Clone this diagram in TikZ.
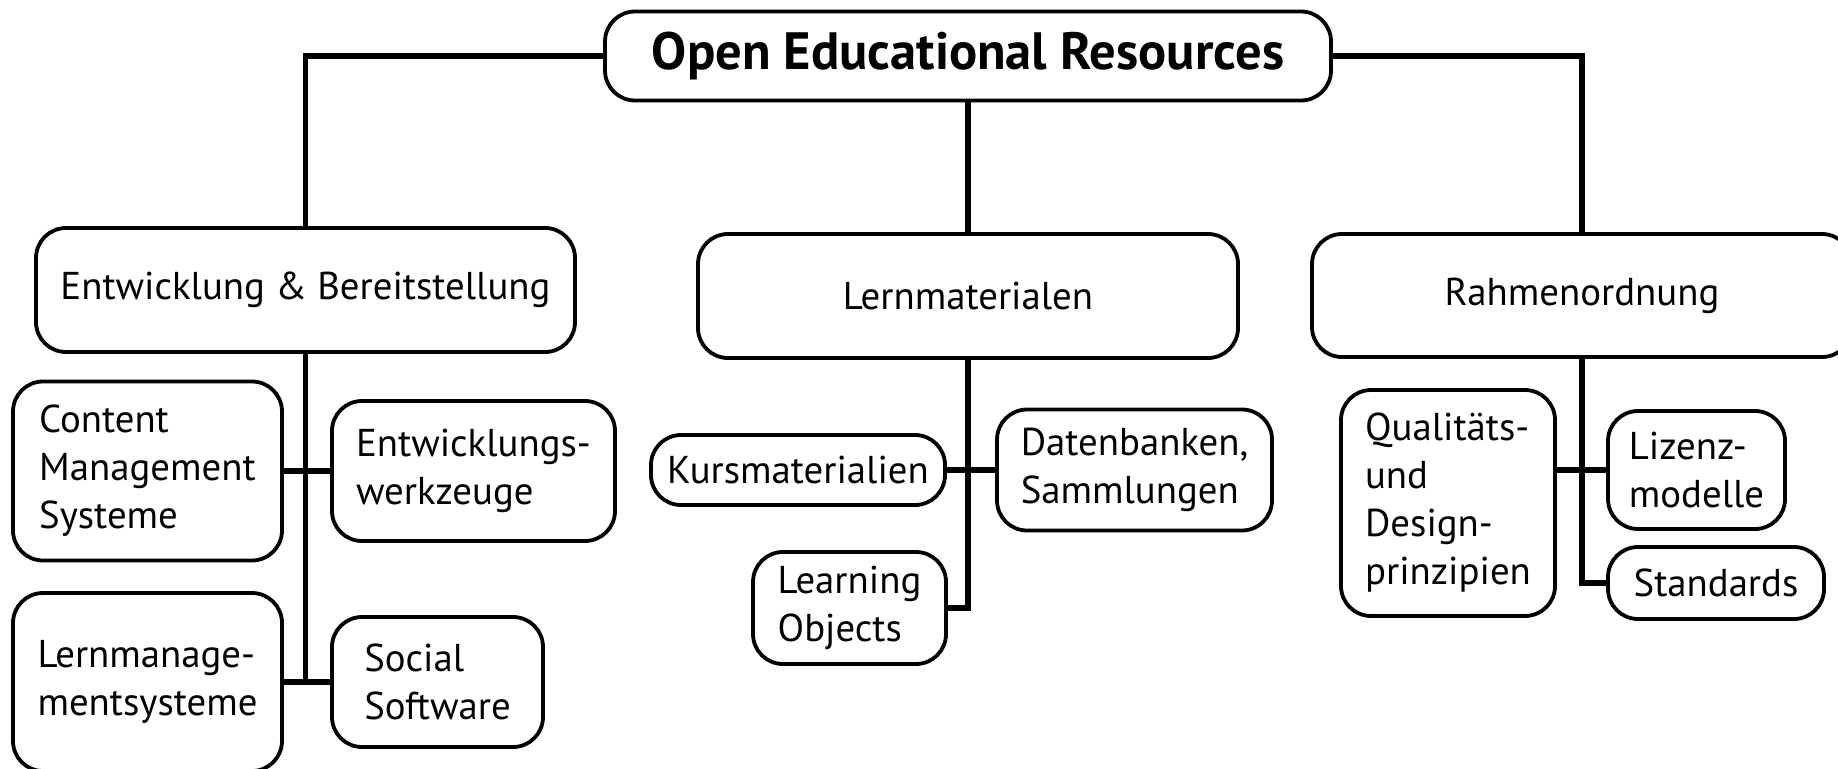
\documentclass[tikz,border=0pt]{standalone}
\usepackage{fontspec}
\setmainfont{PT Sans}
\begin{document}
\begin{tikzpicture}[x=1pt,y=-1pt,
  box/.style={draw=black, line width=3.8pt, fill=white, rounded corners=30pt,
    inner sep=0pt, align=left, font=\fontsize{38.8}{48}\selectfont},
  conn/.style={draw=black, line width=5.5pt, line join=miter}]
\fill[white] (0,0) rectangle (1838,768);
\useasboundingbox (0,0) rectangle (1838,768);

\node[box, minimum width=726pt, minimum height=89pt,
  font=\bfseries\fontsize{52.5}{60}\selectfont] (oer) at (968,56) {Open Educational Resources};
\node[box, minimum width=539pt, minimum height=124pt] (entw) at (305.5,290) {Entwicklung \& Bereitstellung};
\node[box, minimum width=540pt, minimum height=124pt] (lern) at (968,296) {Lernmaterialen};
\node[box, minimum width=540pt, minimum height=123pt] (rahm) at (1582,295.5) {Rahmenordnung};
\node[box, minimum width=269pt, minimum height=179pt] (cms) at (147.5,471) {Content\\Management\\Systeme};
\node[box, minimum width=283pt, minimum height=140pt] (ewz) at (473.5,471) {Entwicklungs-\\werkzeuge};
\node[box, minimum width=269pt, minimum height=178pt] (lms) at (147.5,682) {Lernmanage-\\mentsysteme};
\node[box, minimum width=211pt, minimum height=130pt] (soc) at (437.5,682) {Social\\Software};
\node[box, minimum width=294pt, minimum height=70pt] (kurs) at (798,470) {Kursmaterialien};
\node[box, minimum width=193pt, minimum height=112pt] (lo) at (849.5,608) {Learning\\Objects};
\node[box, minimum width=275pt, minimum height=121pt] (db) at (1134.5,470) {Datenbanken,\\Sammlungen};
\node[box, minimum width=214pt, minimum height=226pt] (qual) at (1448,503) {Qualitäts-\\und\\Design-\\prinzipien};
\node[box, minimum width=177pt, minimum height=118pt] (liz) at (1696.5,470) {Lizenz-\\modelle};
\node[box, minimum width=216pt, minimum height=72pt] (std) at (1716,583) {Standards};

\draw[conn] (oer.west) -| (entw.north);
\draw[conn] (oer.east) -| (rahm.north);
\draw[conn] (oer.south) -- (lern.north);
\draw[conn] (entw.south) -- (entw.south |- lms.east);
\draw[conn] (cms.east) -- (ewz.west);
\draw[conn] (lms.east) -- (soc.west);
\draw[conn] (lern.south) |- (lo.east);
\draw[conn] (kurs.east) -- (db.west);
\draw[conn] (rahm.south) |- (std.west);
\draw[conn] (qual.east |- liz.west) -- (liz.west);
\end{tikzpicture}
\end{document}
